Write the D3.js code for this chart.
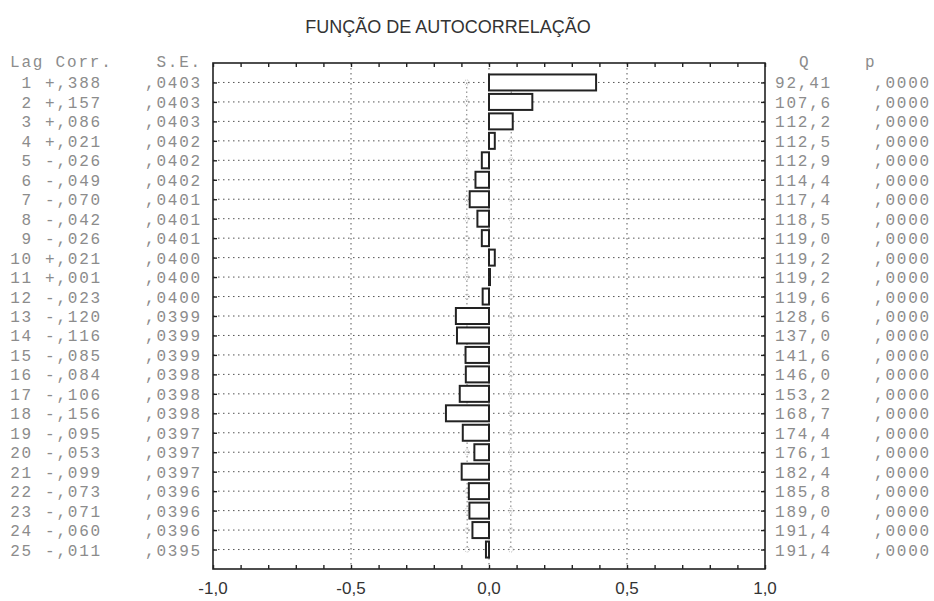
<!DOCTYPE html>
<html>
<head>
<meta charset="utf-8">
<script src="https://cdn.jsdelivr.net/npm/d3@7"></script>
<style>
  body { margin: 0; background: #fff; }
  .tab { font-family: "Liberation Mono", "Courier New", monospace; font-size: 16px; letter-spacing: 1.8px; fill: #8c8c8c; }
  .ttl { font-family: "Liberation Sans", Arial, sans-serif; font-size: 18px; fill: #333; }
  .axl { font-family: "Liberation Sans", Arial, sans-serif; font-size: 17px; fill: #333; }
</style>
</head>
<body>
<div class="acf_div"></div>
<script>
var lags = [1,2,3,4,5,6,7,8,9,10,11,12,13,14,15,16,17,18,19,20,21,22,23,24,25];
var corr = [0.388,0.157,0.086,0.021,-0.026,-0.049,-0.070,-0.042,-0.026,0.021,0.001,-0.023,-0.120,
            -0.116,-0.085,-0.084,-0.106,-0.156,-0.095,-0.053,-0.099,-0.073,-0.071,-0.060,-0.011];
var se = [0.0403,0.0403,0.0403,0.0402,0.0402,0.0402,0.0401,0.0401,0.0401,0.0400,0.0400,0.0400,0.0399,
          0.0399,0.0399,0.0398,0.0398,0.0398,0.0397,0.0397,0.0397,0.0396,0.0396,0.0396,0.0395];
var qstat = [92.41,107.6,112.2,112.5,112.9,114.4,117.4,118.5,119.0,119.2,119.2,119.6,128.6,
             137.0,141.6,146.0,153.2,168.7,174.4,176.1,182.4,185.8,189.0,191.4,191.4];
var pval = [0,0,0,0,0,0,0,0,0,0,0,0,0,0,0,0,0,0,0,0,0,0,0,0,0];
var xTicks = [-1,-0.5,0,0.5,1];
var title = "FUNÇÃO DE AUTOCORRELAÇÃO";

var svg = d3.select(".acf_div").append("svg")
            .attr("width",934)
            .attr("height",601);

var x = d3.scaleLinear().domain([-1,1]).range([213,765]);
var y = d3.scaleLinear().domain([0,26]).range([63,569]);
var barH = 16;

function comma(s){ return s.replace(".",",").replace("\u2212","-"); }

svg.append("text").attr("class","ttl")
   .attr("x",448).attr("y",33)
   .attr("text-anchor","middle")
   .text(title);

// row dotted lines
svg.selectAll(".row")
   .data(lags)
   .enter()
   .append("line")
   .attr("x1",x(-1)).attr("x2",x(1))
   .attr("y1",function(d){ return y(d); })
   .attr("y2",function(d){ return y(d); })
   .attr("stroke","#555")
   .attr("stroke-width",1)
   .attr("stroke-dasharray","1.5,3.5");

// vertical grid at -0.5, 0, 0.5
svg.selectAll(".vgrid")
   .data(xTicks.slice(1,4))
   .enter()
   .append("line")
   .attr("x1",function(d){ return x(d); })
   .attr("x2",function(d){ return x(d); })
   .attr("y1",y(0)).attr("y2",y(26))
   .attr("stroke","#555")
   .attr("stroke-width",1)
   .attr("stroke-dasharray","1.5,3.5");

// confidence limits (2 * S.E.)
[-2,2].forEach(function(k){
  var line = d3.line()
               .x(function(d,i){ return x(k*se[i]); })
               .y(function(d){ return y(d); });
  svg.append("path")
     .attr("d",line(lags))
     .attr("fill","none")
     .attr("stroke","#777")
     .attr("stroke-width",1)
     .attr("stroke-dasharray","1.5,3");
  svg.selectAll(".ci"+k)
     .data(lags)
     .enter()
     .append("circle")
     .attr("cx",function(d,i){ return x(k*se[i]); })
     .attr("cy",function(d){ return y(d); })
     .attr("r",2.5)
     .attr("fill","none")
     .attr("stroke","#aaa")
     .attr("stroke-width",0.8)
     .attr("stroke-dasharray","1.2,1.2");
});

// bars
svg.selectAll(".bar")
   .data(lags)
   .enter()
   .append("rect")
   .attr("x",function(d,i){ return x(Math.min(0,corr[i])); })
   .attr("y",function(d){ return y(d) - barH/2; })
   .attr("width",function(d,i){ return Math.max(1,Math.abs(x(corr[i]) - x(0))); })
   .attr("height",barH)
   .attr("fill","#fff")
   .attr("stroke","#222")
   .attr("stroke-width",2);

// frame and ticks
svg.append("rect")
   .attr("x",x(-1)).attr("y",y(0))
   .attr("width",x(1)-x(-1)).attr("height",y(26)-y(0))
   .attr("fill","none")
   .attr("stroke","#222")
   .attr("stroke-width",1.6);

var minor = d3.range(-10,11).map(function(d){ return d/10; });
var axB = svg.append("g").attr("transform","translate(0,"+y(26)+")")
             .call(d3.axisBottom(x).tickValues(minor).tickSize(-4).tickFormat(""));
var axT = svg.append("g").attr("transform","translate(0,"+y(0)+")")
             .call(d3.axisTop(x).tickValues(minor).tickSize(-4).tickFormat(""));
var axL = svg.append("g").attr("transform","translate("+x(-1)+",0)")
             .call(d3.axisLeft(y).tickValues(lags).tickSize(-4).tickFormat(""));
var axR = svg.append("g").attr("transform","translate("+x(1)+",0)")
             .call(d3.axisRight(y).tickValues(lags).tickSize(-4).tickFormat(""));
[axB,axT,axL,axR].forEach(function(a){
  a.select(".domain").remove();
  a.selectAll("line").attr("stroke","#222").attr("stroke-width",1.4);
});

// bottom labels
svg.selectAll(".xl")
   .data(xTicks)
   .enter()
   .append("text")
   .attr("class","axl")
   .attr("x",function(d){ return x(d); })
   .attr("y",594)
   .attr("text-anchor","middle")
   .text(function(d){ return comma(d3.format(".1f")(d)); });

// table columns
var rowBase = 6;
svg.append("text").attr("class","tab").attr("x",10).attr("y",67).text("Lag Corr.");
svg.append("text").attr("class","tab").attr("x",202).attr("y",67).attr("text-anchor","end").text("S.E.");
svg.append("text").attr("class","tab").attr("x",799).attr("y",67).text("Q");
svg.append("text").attr("class","tab").attr("x",865).attr("y",67).text("p");

function col(cls,xp,anchor,fmt){
  svg.selectAll("."+cls)
     .data(lags)
     .enter()
     .append("text")
     .attr("class","tab "+cls)
     .attr("x",xp)
     .attr("y",function(d){ return y(d) + rowBase; })
     .attr("text-anchor",anchor)
     .text(fmt);
}
col("lag",33,"end",function(d){ return d; });
col("corr",45,"start",function(d,i){
  var v = corr[i];
  return (v >= 0 ? "+" : "-") + "," + d3.format(".3f")(Math.abs(v)).split(".")[1];
});
col("se",202,"end",function(d,i){ return "," + d3.format(".4f")(se[i]).split(".")[1]; });
col("q",775,"start",function(d,i){ return comma(d3.format(".4r")(qstat[i])); });
col("p",874,"start",function(d,i){ return "," + d3.format(".4f")(pval[i]).split(".")[1]; });
</script>
</body>
</html>
